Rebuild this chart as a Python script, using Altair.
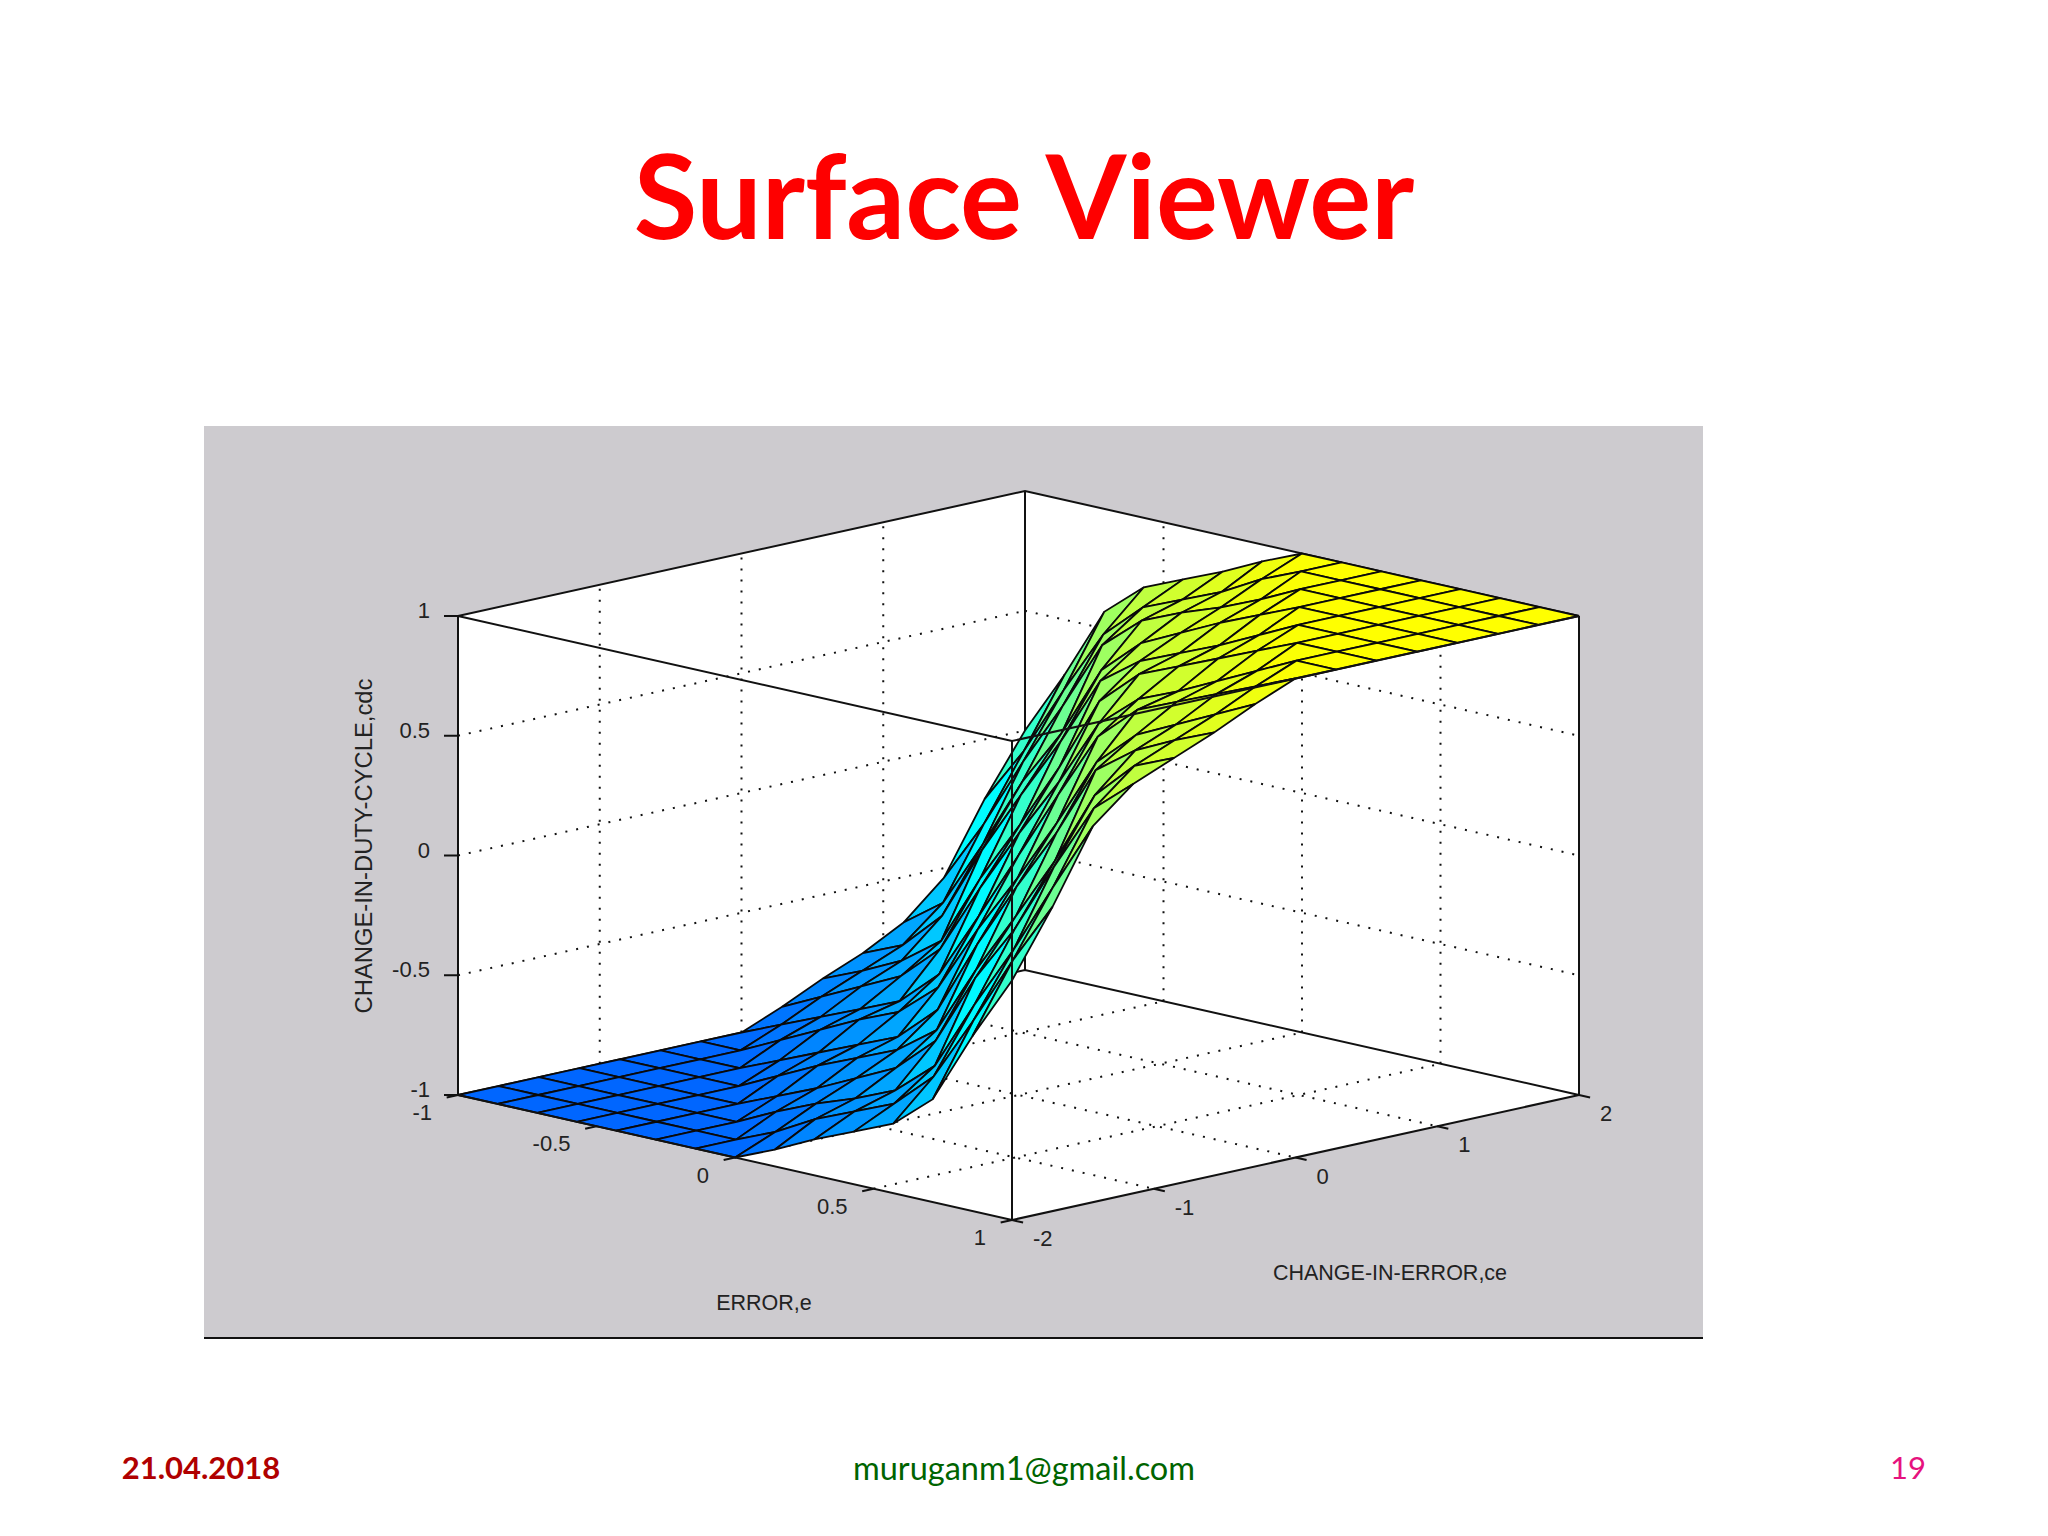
import altair as alt

# surface values: rows = ERROR,e -1..1; columns = CHANGE-IN-ERROR,ce -2..2
e_steps = [-1, -0.857, -0.714, -0.571, -0.429, -0.286, -0.143, 0, 0.143, 0.286, 0.429, 0.571, 0.714, 0.857, 1]
ce_steps = [-2, -1.714, -1.429, -1.143, -0.857, -0.571, -0.286, 0, 0.286, 0.571, 0.857, 1.143, 1.429, 1.714, 2]
z_rows = [
    [-1, -1, -1, -1, -1, -1, -1, -1, -.93, -.85, -.78, -.69, -.54, -.25, 0],
    [-1, -1, -1, -1, -1, -1, -1, -.93, -.85, -.78, -.71, -.57, -.28, -.01, .27],
    [-1, -1, -1, -1, -1, -1, -.92, -.86, -.77, -.70, -.55, -.29, .02, .28, .57],
    [-1, -1, -1, -1, -1, -.93, -.84, -.79, -.69, -.58, -.24, .01, .29, .55, .71],
    [-1, -1, -1, -1, -.92, -.86, -.76, -.72, -.54, -.28, .03, .25, .58, .70, .78],
    [-1, -1, -1, -.93, -.84, -.79, -.69, -.57, -.25, -.02, .29, .55, .72, .77, .85],
    [-1, -1, -.92, -.86, -.77, -.72, -.55, -.29, .02, .26, .58, .70, .79, .84, .93],
    [-1, -.93, -.85, -.78, -.70, -.57, -.27, 0, .27, .57, .70, .78, .85, .93, 1],
    [-.93, -.84, -.79, -.70, -.58, -.26, -.02, .29, .55, .72, .77, .86, .92, 1, 1],
    [-.85, -.77, -.72, -.55, -.29, .02, .25, .57, .69, .79, .84, .93, 1, 1, 1],
    [-.78, -.70, -.58, -.25, -.03, .28, .54, .72, .76, .86, .92, 1, 1, 1, 1],
    [-.71, -.55, -.29, -.01, .24, .58, .69, .79, .84, .93, 1, 1, 1, 1, 1],
    [-.57, -.28, -.02, .29, .55, .70, .77, .86, .92, 1, 1, 1, 1, 1, 1],
    [-.27, .01, .28, .57, .71, .78, .85, .93, 1, 1, 1, 1, 1, 1, 1],
    [0, .27, .57, .71, .78, .85, .93, 1, 1, 1, 1, 1, 1, 1, 1],
]
e_ticks = [-1, -0.5, 0, 0.5, 1]
e_tick_labels = ["-1", "-0.5", "0", "0.5", "1"]
ce_ticks = [-2, -1, 0, 1, 2]
ce_tick_labels = ["-2", "-1", "0", "1", "2"]
z_ticks = [-1, -0.5, 0, 0.5, 1]
z_tick_labels = ["-1", "-0.5", "0", "0.5", "1"]

LEFT, FRONT, RIGHT = (458, 1095), (1012, 1220), (1579, 1095)
Z_SPAN = 479
FONT = "Liberation Sans"
SLIDE_FONT = "Lato"


def P(e, ce, z):
    a, b = (e + 1) / 2, (ce + 2) / 4
    return [
        LEFT[0] + a * (FRONT[0] - LEFT[0]) + b * (RIGHT[0] - FRONT[0]),
        LEFT[1] + a * (FRONT[1] - LEFT[1]) + b * (RIGHT[1] - FRONT[1]) - (z + 1) / 2 * Z_SPAN,
    ]


def poly(points, **props):
    return {"type": "Feature", "properties": props,
            "geometry": {"type": "Polygon", "coordinates": [points + [points[0]]]}}


def line(points):
    return {"type": "Feature", "properties": {},
            "geometry": {"type": "LineString", "coordinates": points}}


PROJ = alt.Projection(type="identity", scale=1, translate=[-8, -8])


def shapes(features, **mark):
    return alt.Chart(alt.Data(values=features)).mark_geoshape(**mark).project(**PROJ.to_dict())


def text_layer(rows, **mark):
    return alt.Chart(alt.Data(values=rows)).mark_text(baseline="middle", **mark).encode(
        longitude="x:Q", latitude="y:Q", text="t:N").project(**PROJ.to_dict())


# panel and box
panel = shapes([poly([[204, 426], [1703, 426], [1703, 1338], [204, 1338]])], fill="#cdcbcf", stroke=None, strokeWidth=0)
panel_rule = shapes([line([[204, 1338], [1703, 1338]])], filled=False, stroke="#111111", strokeWidth=2)
box = shapes([poly([P(-1, -2, -1), P(1, -2, -1), P(1, 2, -1), P(1, 2, 1), P(-1, 2, 1), P(-1, -2, 1)])],
             fill="white", strokeWidth=0)

# dotted grids on the walls and floor
inner_e, inner_ce, inner_z = e_ticks[1:-1], ce_ticks[1:-1], z_ticks[1:-1]
grid = []
for c in inner_ce:
    grid.append(line([P(-1, c, -1), P(-1, c, 1)]))
    grid.append(line([P(-1, c, -1), P(1, c, -1)]))
for a in inner_e:
    grid.append(line([P(a, 2, -1), P(a, 2, 1)]))
    grid.append(line([P(a, -2, -1), P(a, 2, -1)]))
for h in inner_z:
    grid.append(line([P(-1, -2, h), P(-1, 2, h)]))
    grid.append(line([P(-1, 2, h), P(1, 2, h)]))
grid_layer = shapes(grid, filled=False, stroke="#111111", strokeWidth=2, strokeDash=[2, 9])

back_edges = shapes([
    line([P(-1, -2, -1), P(-1, 2, -1), P(1, 2, -1)]),
    line([P(-1, 2, -1), P(-1, 2, 1)]),
    line([P(-1, -2, 1), P(-1, 2, 1), P(1, 2, 1)]),
    line([P(-1, -2, -1), P(-1, -2, 1)]),
    line([P(1, 2, -1), P(1, 2, 1)]),
], filled=False, stroke="#111111", strokeWidth=2)

# surface patches, painted from the back corner to the front corner
patches = []
for i in range(14):
    for j in range(13, -1, -1):
        corners = [(i, j), (i + 1, j), (i + 1, j + 1), (i, j + 1)]
        pts = [P(e_steps[m], ce_steps[n], z_rows[m][n]) for m, n in corners]
        mean_z = sum(z_rows[m][n] for m, n in corners) / 4
        patches.append(poly(pts, z=mean_z))
surface = alt.Chart(alt.Data(values=patches)).mark_geoshape(stroke="#0a0a0a", strokeWidth=1.8).encode(
    fill=alt.Fill("properties.z:Q", legend=None,
                  scale=alt.Scale(domain=[-1, -0.25, 1], range=["#0066ff", "#00ffff", "#ffff00"], interpolate="rgb"))
).project(**PROJ.to_dict())

front_edges = shapes([
    line([P(-1, -2, 1), P(1, -2, 1), P(1, 2, 1)]),
    line([P(1, -2, -1), P(1, -2, 1)]),
    line([P(-1, -2, -1), P(1, -2, -1), P(1, 2, -1)]),
], filled=False, stroke="#111111", strokeWidth=2)

ticks = []
for a in e_ticks:
    ticks.append(line([P(a, -2, -1), P(a, -2.08, -1)]))
for c in ce_ticks:
    ticks.append(line([P(1, c, -1), P(1.04, c, -1)]))
for h in z_ticks:
    x, y = P(-1, -2, h)
    ticks.append(line([[x - 14, y], [x, y]]))
tick_layer = shapes(ticks, filled=False, stroke="#111111", strokeWidth=2)

e_label_rows = [{"x": P(a, -2, -1)[0] - 26, "y": P(a, -2, -1)[1] + 18, "t": s} for a, s in zip(e_ticks, e_tick_labels)]
ce_label_rows = [{"x": P(1, c, -1)[0] + 21, "y": P(1, c, -1)[1] + 19, "t": s} for c, s in zip(ce_ticks, ce_tick_labels)]
z_label_rows = [{"x": P(-1, -2, h)[0] - 28, "y": P(-1, -2, h)[1] - 5, "t": s} for h, s in zip(z_ticks, z_tick_labels)]
tick_font = dict(font=FONT, fontSize=22, color="#222222")
title_font = dict(font=FONT, fontSize=21.5, color="#222222")

layers = [
    panel, panel_rule, box, grid_layer, back_edges, surface, front_edges, tick_layer,
    text_layer(e_label_rows, align="right", **tick_font),
    text_layer(ce_label_rows, align="left", **tick_font),
    text_layer(z_label_rows, align="right", **tick_font),
    text_layer([{"x": 764, "y": 1304, "t": "ERROR,e"}], align="center", **title_font),
    text_layer([{"x": 1390, "y": 1274, "t": "CHANGE-IN-ERROR,ce"}], align="center", **title_font),
    text_layer([{"x": 365, "y": 846, "t": "CHANGE-IN-DUTY-CYCLE,cdc"}], align="center", angle=270,
               font=FONT, fontSize=23.8, color="#222222"),
    text_layer([{"x": 1024, "y": 204, "t": "Surface Viewer"}], align="center", font=SLIDE_FONT, fontSize=116,
               fontWeight="bold", color="#fe0000"),
    text_layer([{"x": 201, "y": 1470, "t": "21.04.2018"}], align="center", font=SLIDE_FONT, fontSize=31,
               fontWeight="bold", color="#b00000"),
    text_layer([{"x": 1024, "y": 1470, "t": "muruganm1@gmail.com"}], align="center", font=SLIDE_FONT, fontSize=32.5,
               color="#006400"),
    text_layer([{"x": 1908, "y": 1470, "t": "19"}], align="center", font=SLIDE_FONT, fontSize=31, color="#e6127e"),
]

chart = alt.layer(*layers).properties(width=2030, height=1518, padding=0).configure_view(stroke=None)
chart.save("out.html", embed_options={"renderer": "svg", "actions": False})
